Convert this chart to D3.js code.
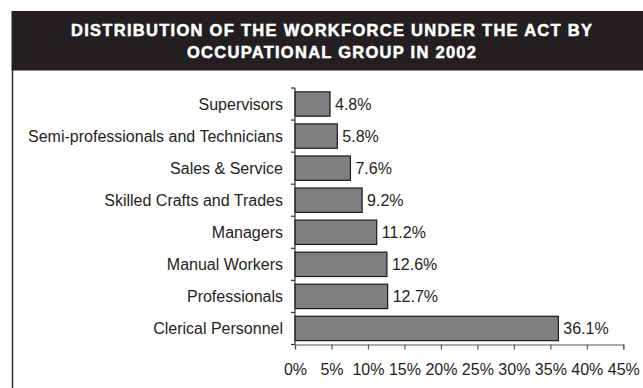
<!DOCTYPE html>
<html>
<head>
<meta charset="utf-8">
<script src="https://cdn.jsdelivr.net/npm/d3@7"></script>
<style>
  html, body { margin: 0; padding: 0; background: #fff; }
  svg { display: block; }
  text { font-family: "Liberation Sans", Arial, Helvetica, sans-serif; fill: #231f20; }
</style>
</head>
<body>
<svg id="chart" width="643" height="388"></svg>
<script>
// Occupational groups, top to bottom
const categories = [
  "Supervisors",
  "Semi-professionals and Technicians",
  "Sales & Service",
  "Skilled Crafts and Trades",
  "Managers",
  "Manual Workers",
  "Professionals",
  "Clerical Personnel"
];
// Share of the workforce (%)
const shares = [4.8, 5.8, 7.6, 9.2, 11.2, 12.6, 12.7, 36.1];
// Axis ticks (%)
const tickValues = [0, 5, 10, 15, 20, 25, 30, 35, 40, 45];
const titleLines = [
  "DISTRIBUTION OF THE WORKFORCE UNDER THE ACT BY",
  "OCCUPATIONAL GROUP IN 2002"
];

const svg = d3.select("#chart");
const ink = "#231f20";

// Header band
svg.append("rect")
  .attr("x", 11.5).attr("y", 11)
  .attr("width", 643 - 11.5).attr("height", 59.5)
  .attr("fill", ink);

const titleWidths = [521, 289];
svg.selectAll("text.title")
  .data(titleLines)
  .join("text")
  .attr("class", "title")
  .attr("x", 331.5)
  .attr("y", (d, i) => 35.5 + i * 22)
  .attr("text-anchor", "middle")
  .attr("textLength", (d, i) => titleWidths[i])
  .attr("lengthAdjust", "spacing")
  .style("font-weight", "bold")
  .style("font-size", "16.5px")
  .style("fill", "#ffffff")
  .style("stroke", "#ffffff")
  .style("stroke-width", "0.5px")
  .text(d => d);

// Left frame rule
svg.append("line")
  .attr("x1", 12.5).attr("x2", 12.5)
  .attr("y1", 70).attr("y2", 388)
  .attr("stroke", "#2b2b2b").attr("stroke-width", 1.5);

// Scales
const x = d3.scaleLinear().domain([0, 45]).range([295, 623.3]);
const y = d3.scaleBand().domain(categories).range([88, 344.5])
  .paddingInner(0.24).paddingOuter(0.12);

// Bars
svg.append("g")
  .selectAll("rect")
  .data(categories)
  .join("rect")
  .attr("x", x(0))
  .attr("y", d => y(d))
  .attr("width", (d, i) => x(shares[i]) - x(0))
  .attr("height", y.bandwidth())
  .attr("fill", "#7f7f81")
  .attr("stroke", "#1a1a1a")
  .attr("stroke-width", 1.2);

// Value labels
svg.append("g")
  .selectAll("text")
  .data(categories)
  .join("text")
  .attr("x", (d, i) => x(shares[i]) + 5)
  .attr("y", d => y(d) + y.bandwidth() / 2)
  .attr("dy", "0.35em")
  .style("font-size", "16px")
  .text((d, i) => shares[i].toFixed(1) + "%");

// Category axis: line with ticks between categories
const step = y.step();
const boundaries = d3.range(categories.length + 1).map(i => 88 + i * step);
const yAxis = svg.append("g");
yAxis.append("line")
  .attr("x1", x(0)).attr("x2", x(0))
  .attr("y1", boundaries[0]).attr("y2", boundaries[boundaries.length - 1])
  .attr("stroke", "#333").attr("stroke-width", 1.2);
yAxis.selectAll("line.tick")
  .data(boundaries)
  .join("line")
  .attr("class", "tick")
  .attr("x1", x(0) - 4).attr("x2", x(0))
  .attr("y1", d => d).attr("y2", d => d)
  .attr("stroke", "#333").attr("stroke-width", 1.2);
yAxis.selectAll("text")
  .data(categories)
  .join("text")
  .attr("x", 283)
  .attr("y", d => y(d) + y.bandwidth() / 2)
  .attr("dy", "0.35em")
  .attr("text-anchor", "end")
  .style("font-size", "16px")
  .text(d => d);

// Value axis
const xAxis = svg.append("g")
  .attr("transform", `translate(0,${boundaries[boundaries.length - 1]})`)
  .call(d3.axisBottom(x).tickValues(tickValues).tickSize(5).tickPadding(14)
    .tickFormat(d => d + "%"));
xAxis.select(".domain").attr("stroke", "#555").attr("stroke-width", 1.2);
xAxis.selectAll(".tick line").attr("stroke", "#555").attr("stroke-width", 1.2);
xAxis.selectAll(".tick text")
  .style("font-size", "16px")
  .style("font-family", "'Liberation Sans', Arial, Helvetica, sans-serif")
  .attr("fill", ink);
</script>
</body>
</html>
